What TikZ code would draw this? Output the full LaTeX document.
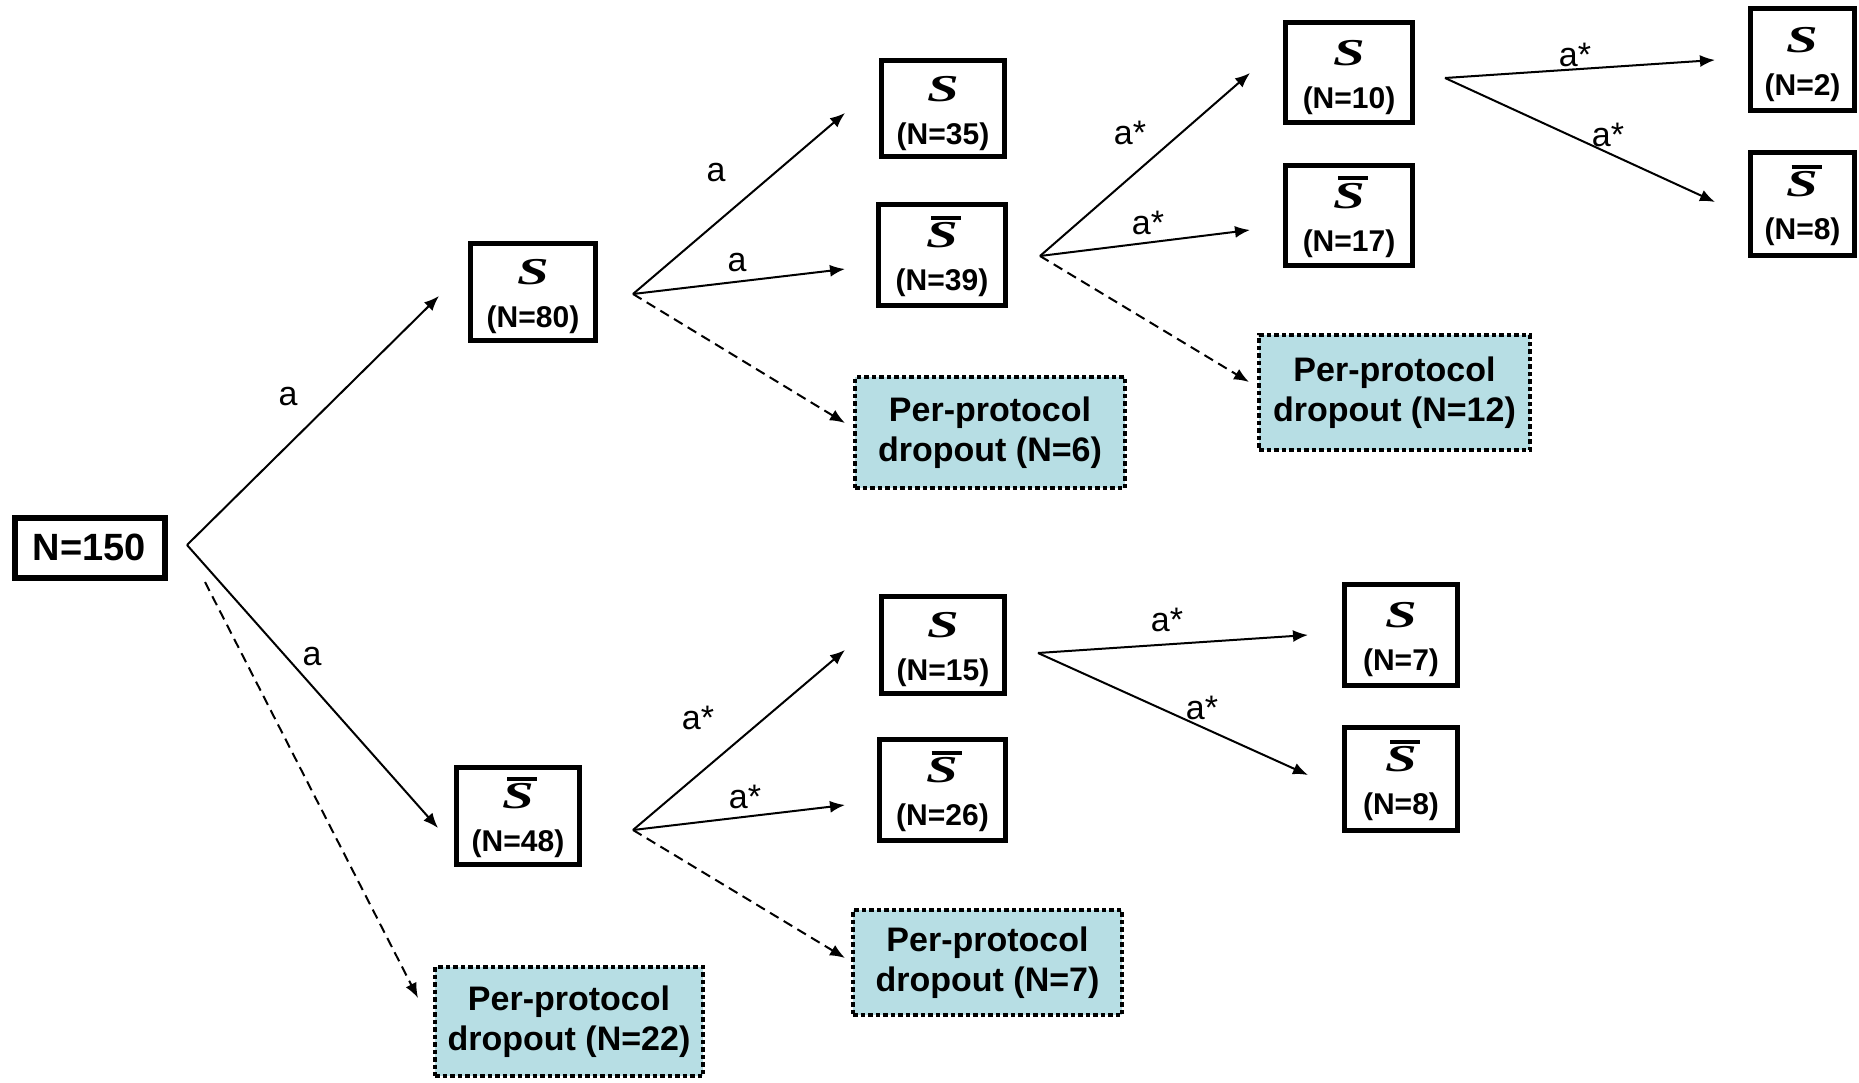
\documentclass[tikz,border=0pt]{standalone}
\usepackage{fontspec}
\usepackage{graphicx}
\setmainfont{Liberation Sans}
\newfontfamily\sfnt{Liberation Serif}
\usetikzlibrary{arrows.meta}
\definecolor{ppblue}{RGB}{183,222,228}
\newcommand\Sy{{\sfnt\bfseries\itshape\fontsize{38}{38}\selectfont\scalebox{1.5}[1]{S}}}
\newcommand\Sbar{\makebox[0pt][l]{\smash{\hspace{5pt}\raisebox{28pt}{\rule{30pt}{4pt}}}}\Sy}
\newcommand\Sline{\rule{0pt}{35pt}\Sy}
\newcommand\Sbline{\rule{0pt}{35pt}\Sbar}
\tikzset{
  sbox/.style={draw, line width=5pt, inner sep=0pt, align=center,
    font=\fontsize{30}{43}\selectfont\bfseries},
  ppbox/.style={draw, line width=4pt, dash pattern=on 4.5pt off 3pt, fill=ppblue,
    inner sep=0pt, align=center, font=\fontsize{34}{40}\selectfont\bfseries},
  arr/.style={line width=2pt, -{Latex[length=15pt,width=12pt]}},
  darr/.style={arr, dash pattern=on 10pt off 6pt},
  lbl/.style={font=\fontsize{34}{34}\selectfont, inner sep=0pt},
}
\begin{document}
\begin{tikzpicture}[x=1pt,y=-1pt]
\useasboundingbox (0,0) rectangle (1859,1083);
% boxes
\node[sbox, minimum width=150pt, minimum height=60pt, line width=6pt,
  font=\fontsize{38}{38}\selectfont\bfseries] (n150) at (89.5,547.5) {N=150};
\node[sbox, minimum width=125pt, minimum height=97pt] (s80) at (533,292) {\Sline\\(N=80)};
\node[sbox, minimum width=123pt, minimum height=97pt] (sb48) at (518,816) {\Sbline\\(N=48)};
\node[ppbox, minimum width=268pt, minimum height=109pt] (pp22) at (569,1021.5) {Per-protocol\\dropout (N=22)};
\node[sbox, minimum width=123pt, minimum height=96pt] (s35) at (943,108.5) {\Sline\\(N=35)};
\node[sbox, minimum width=127pt, minimum height=101pt] (sb39) at (942,255) {\Sbline\\(N=39)};
\node[ppbox, minimum width=270pt, minimum height=111pt] (pp6) at (990,432.5) {Per-protocol\\dropout (N=6)};
\node[sbox, minimum width=123pt, minimum height=97pt] (s15) at (943,645) {\Sline\\(N=15)};
\node[sbox, minimum width=126pt, minimum height=101pt] (sb26) at (942.5,790) {\Sbline\\(N=26)};
\node[ppbox, minimum width=269pt, minimum height=105pt] (pp7) at (987.5,962.5) {Per-protocol\\dropout (N=7)};
\node[sbox, minimum width=127pt, minimum height=100pt] (s10) at (1349,72.5) {\Sline\\(N=10)};
\node[sbox, minimum width=127pt, minimum height=100pt] (sb17) at (1349,215.5) {\Sbline\\(N=17)};
\node[ppbox, minimum width=271pt, minimum height=115pt] (pp12) at (1394.5,392.5) {Per-protocol\\dropout (N=12)};
\node[sbox, minimum width=104pt, minimum height=102pt] (s2) at (1802.5,59.5) {\Sline\\(N=2)};
\node[sbox, minimum width=104pt, minimum height=103pt] (sb8a) at (1802.5,204) {\Sbline\\(N=8)};
\node[sbox, minimum width=113pt, minimum height=101pt] (s7) at (1401,635) {\Sline\\(N=7)};
\node[sbox, minimum width=113pt, minimum height=103pt] (sb8b) at (1401,779) {\Sbline\\(N=8)};
% fork points
\coordinate (f0) at (187,545);
\coordinate (f0d) at (205,582);
\coordinate (f1) at (633,294);
\coordinate (f2) at (633,830);
\coordinate (f3) at (1040,256);
\coordinate (f4) at (1445,78);
\coordinate (f5) at (1038,653);
% arrow tips
\coordinate (t80) at (439,296);
\coordinate (t48) at (438,828);
\coordinate (t22) at (418,998);
\coordinate (t35) at (845,113);
\coordinate (t39) at (845,269);
\coordinate (t6) at (845,423);
\coordinate (t15) at (845,650);
\coordinate (t26) at (845,805);
\coordinate (t7d) at (845,958);
\coordinate (t10) at (1250,73);
\coordinate (t17) at (1250,230);
\coordinate (t12) at (1249,382);
\coordinate (t2) at (1715,60);
\coordinate (t8a) at (1715,202);
\coordinate (t7) at (1308,635);
\coordinate (t8b) at (1308,775);
% connectors
\draw[arr] (f0) -- (t80);
\draw[arr] (f0) -- (t48);
\draw[darr] (f0d) -- (t22);
\draw[arr] (f1) -- (t35);
\draw[arr] (f1) -- (t39);
\draw[darr] (f1) -- (t6);
\draw[arr] (f2) -- (t15);
\draw[arr] (f2) -- (t26);
\draw[darr] (f2) -- (t7d);
\draw[arr] (f3) -- (t10);
\draw[arr] (f3) -- (t17);
\draw[darr] (f3) -- (t12);
\draw[arr] (f4) -- (t2);
\draw[arr] (f4) -- (t8a);
\draw[arr] (f5) -- (t7);
\draw[arr] (f5) -- (t8b);
% labels
\node[lbl] (l1) at (288,397) {a};
\node[lbl] (l2) at (312,657) {a};
\node[lbl] (l3) at (716,173) {a};
\node[lbl] (l4) at (737,263) {a};
\node[lbl] (l5) at (698,718) {a*};
\node[lbl] (l6) at (745,797) {a*};
\node[lbl] (l7) at (1130,133) {a*};
\node[lbl] (l8) at (1148,223) {a*};
\node[lbl] (l9) at (1575,55) {a*};
\node[lbl] (l10) at (1608,135) {a*};
\node[lbl] (l11) at (1167,620) {a*};
\node[lbl] (l12) at (1202,708) {a*};
\end{tikzpicture}
\end{document}
